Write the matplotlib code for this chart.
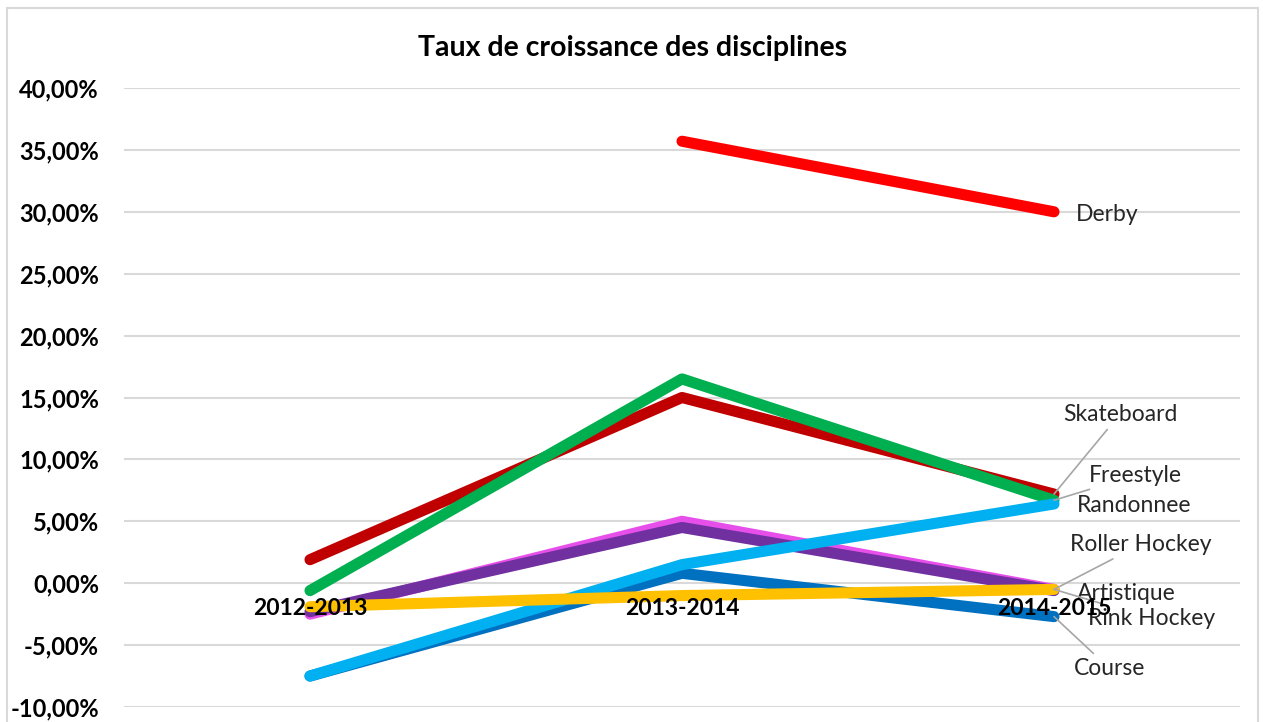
import numpy as np
import matplotlib.pyplot as plt
from matplotlib.ticker import FuncFormatter
from matplotlib.patches import Rectangle

plt.rcParams['font.family'] = ['Lato', 'DejaVu Sans']

periods = ["2012-2013", "2013-2014", "2014-2015"]

# growth rates in %
derby = [np.nan, 35.7, 30.0]
skateboard = [1.9, 15.0, 7.2]
freestyle = [-0.6, 16.5, 6.7]
roller_hockey = [-2.5, 5.0, -0.5]
artistique = [-2.3, 4.5, -0.6]
course = [-7.5, 0.8, -2.7]
randonnee = [-7.5, 1.5, 6.4]
rink_hockey = [-1.9, -1.0, -0.5]

# name, values, colour, label offset (px), text alignment, leader line
series = [
    ("Skateboard", skateboard, "#C00000", (66, 80), "center", True),
    ("Freestyle", freestyle, "#00B050", (35, 25), "left", True),
    ("Derby", derby, "#FF0000", (22, -3), "left", False),
    ("Roller Hockey", roller_hockey, "#E64FEA", (87, 45), "center", True),
    ("Artistique", artistique, "#7030A0", (23, -3), "left", False),
    ("Course", course, "#0070C0", (20, -52), "left", True),
    ("Randonnee", randonnee, "#00B0F0", (23, -2), "left", False),
    ("Rink Hockey", rink_hockey, "#FFC000", (34, -29), "left", True),
]

fig = plt.figure(figsize=(12.63, 7.22), dpi=100)
ax = fig.add_axes([124 / 1263, 15 / 722, 1116 / 1263, 619 / 722])

x = np.arange(len(periods))
for name, vals, col, off, ha, leader in series:
    ax.plot(x, vals, color=col, lw=8, solid_capstyle="round", solid_joinstyle="round", zorder=3)
    props = None
    if leader:
        props = dict(arrowstyle="-", color="#A6A6A6", lw=1.2, shrinkA=2, shrinkB=0)
    ax.annotate(name, xy=(x[-1], vals[-1]), xytext=off, textcoords="offset pixels",
                ha=ha, va="center", fontsize=16.5, color="#262626",
                arrowprops=props, zorder=4)

# category labels sit on the 0 line, drawn over the lines
for i, p in enumerate(periods):
    ax.annotate(p, xy=(i, 0), xytext=(0, -25), textcoords="offset pixels",
                ha="center", va="center", fontsize=16.5, fontweight="bold",
                color="black", zorder=6)

ax.set_xlim(-0.5, 2.5)
ax.set_ylim(-10, 40)
ax.set_yticks(np.arange(-10, 41, 5))
ax.yaxis.set_major_formatter(FuncFormatter(lambda v, p: f"{v:.2f}%".replace(".", ",")))
ax.set_xticks([])
for s in ax.spines.values():
    s.set_visible(False)
ax.tick_params(axis="y", length=0, labelsize=17, pad=18)
for lab in ax.get_yticklabels():
    lab.set_fontweight("bold")
    lab.set_color("black")
ax.grid(axis="y", color="#D9D9D9", lw=1.5)
ax.set_axisbelow(True)

fig.text(633 / 1263, 1 - 48 / 722, "Taux de croissance des disciplines",
         ha="center", va="center", fontsize=20.5, fontweight="bold")

fig.patches.append(Rectangle((7 / 1263, -0.01), 1251 / 1263, 1 - 8 / 722 + 0.01,
                             transform=fig.transFigure, fill=False,
                             edgecolor="#D9D9D9", lw=1.5))

fig.savefig("out.png", dpi=100)
